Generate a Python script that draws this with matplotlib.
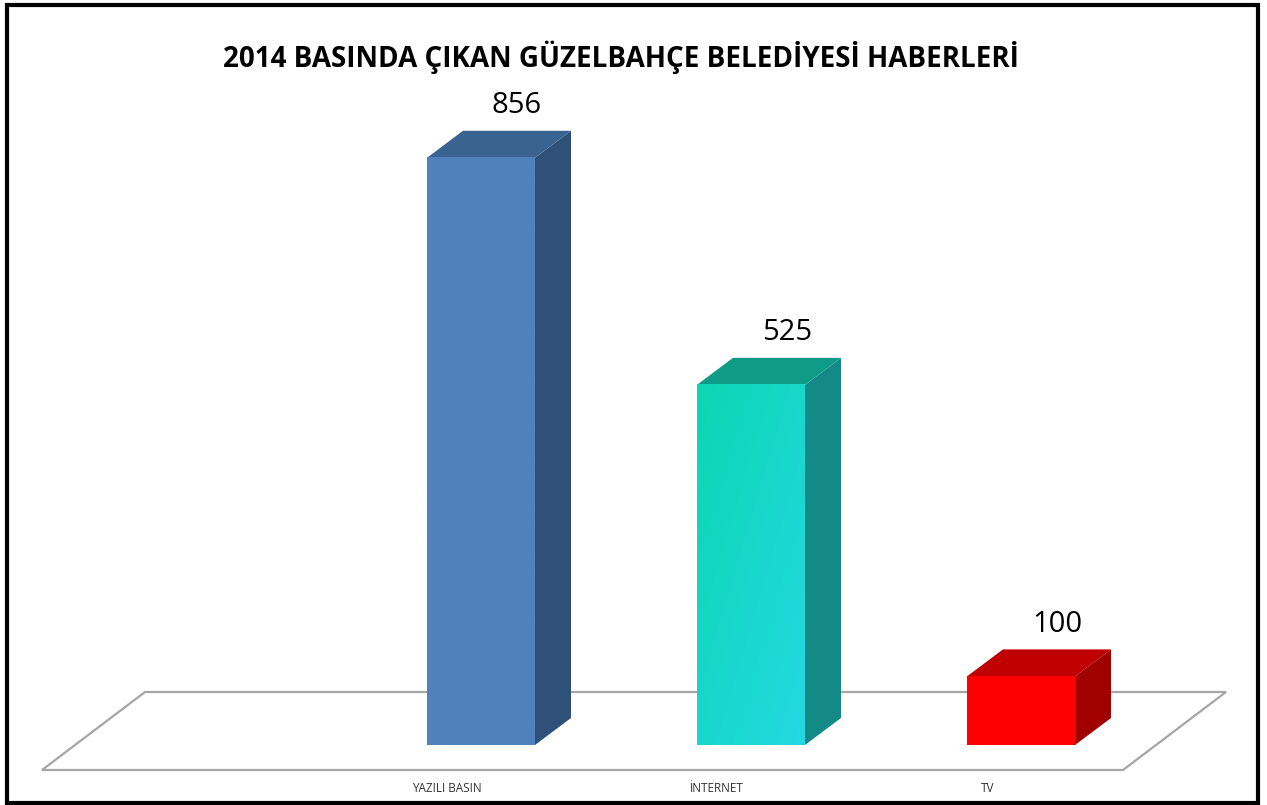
import numpy as np
import matplotlib.pyplot as plt
from matplotlib.patches import Polygon, Rectangle
from matplotlib.colors import to_rgb

plt.rcParams['font.family'] = ['Open Sans', 'DejaVu Sans']

title = "2014 BASINDA ÇIKAN GÜZELBAHÇE BELEDİYESİ HABERLERİ"
categories = ["YAZILI BASIN", "İNTERNET", "TV"]
values = [856, 525, 100]

# face colours: front (start, end of gradient), top, side
front_start = ["#4F81BD", "#0CD6B4", "#FF0000"]
front_end = ["#4F81BD", "#24D9E2", "#FF0000"]
top_colors = ["#3B6392", "#0E9C87", "#C00000"]
side_colors = ["#2F5179", "#148A87", "#A00000"]

# geometry of the fake 3D view (category units / value units)
W, H = 1267, 805
px_cat, px_val = 270.0, 0.686
x0_px, base_px = 481.0, 745.0
half_w = 0.2
dx, dy = 36 / px_cat, 27 / px_val
floor_front, floor_back = -25 / px_val, 53 / px_val
floor_left, floor_right = (42 - x0_px) / px_cat, (1123 - x0_px) / px_cat
floor_dx = 103 / px_cat

fig = plt.figure(figsize=(W / 100, H / 100), dpi=100)
ax = fig.add_axes([0, 0, 1, 1])
xlim = (-x0_px / px_cat, (W - x0_px) / px_cat)
ylim = (-(H - base_px) / px_val, base_px / px_val)

# floor
floor = Polygon([(floor_left, floor_front), (floor_right, floor_front),
                 (floor_right + floor_dx, floor_back), (floor_left + floor_dx, floor_back)],
                closed=True, facecolor="white", edgecolor="#A6A6A6", lw=1.6, zorder=1)
ax.add_patch(floor)

for i, v in enumerate(values):
    xl, xr = i - half_w, i + half_w
    # side face
    ax.add_patch(Polygon([(xr, 0), (xr + dx, dy), (xr + dx, v + dy), (xr, v)],
                         closed=True, facecolor=side_colors[i], edgecolor="none", zorder=3))
    # top face
    ax.add_patch(Polygon([(xl, v), (xr, v), (xr + dx, v + dy), (xl + dx, v + dy)],
                         closed=True, facecolor=top_colors[i], edgecolor="none", zorder=3))
    # front face with a diagonal gradient
    c0, c1 = np.array(to_rgb(front_start[i])), np.array(to_rgb(front_end[i]))
    u = np.linspace(0, 1, 60)
    t = (u[None, :] + u[:, None]) / 2
    img = c0 + (c1 - c0) * t[..., None]
    ax.imshow(img, extent=[xl, xr, 0, v], origin="upper", aspect="auto",
              interpolation="bilinear", zorder=4)
    # labels
    ax.text(i + dx, v + dy + 25 / px_val, f"{v}", ha="center", va="center",
            fontsize=21, color="black", zorder=5)
    ax.text(i - 0.125, -43 / px_val, categories[i], ha="center", va="center",
            fontsize=8.5, color="#333333", zorder=5)

ax.set_xlim(*xlim)
ax.set_ylim(*ylim)
ax.axis("off")

fig.text(621 / W, 1 - 57 / H, title, ha="center", va="center",
         fontsize=20, fontweight="bold", color="black")

# outer frame
fig.patches.append(Rectangle((7 / W, 2 / H), 1251 / W, 798 / H, transform=fig.transFigure,
                             fill=False, edgecolor="black", lw=3))

fig.savefig("out.png", dpi=100)
